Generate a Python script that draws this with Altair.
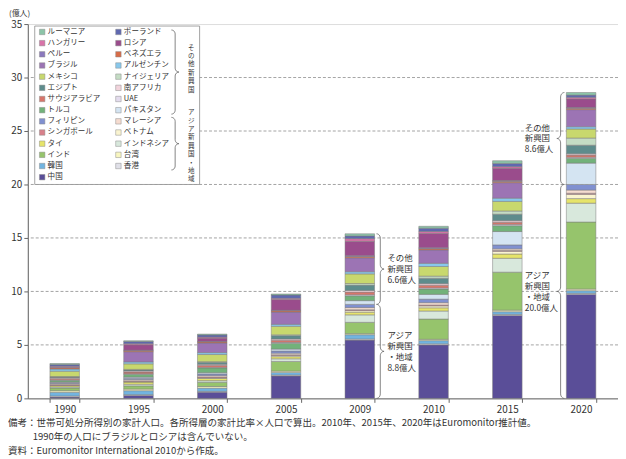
import math
import altair as alt
import pandas as pd

# ---------------- data ----------------
years = ["1990", "1995", "2000", "2005", "2009", "2010", "2015", "2020"]

# stacking order, bottom to top (first 11 = Asian emerging economies)
countries = ["中国", "香港", "韓国", "台湾", "インド", "インドネシア", "タイ", "ベトナム",
             "シンガポール", "マレーシア", "フィリピン",
             "パキスタン", "トルコ", "UAE", "サウジアラビア", "南アフリカ", "エジプト",
             "ナイジェリア", "メキシコ", "アルゼンチン", "ブラジル", "ベネズエラ", "ペルー",
             "ロシア", "ハンガリー", "ポーランド", "ルーマニア"]
n_asia = 11

colors = ["#5a4e98", "#e0e0e8", "#72b4e0", "#f8f6c0", "#96c46c", "#d8e8dc", "#e6e46a", "#faf4d0",
          "#d8808a", "#f6dcd0", "#8090d0",
          "#d4e4f2", "#72b27a", "#e4dcee", "#d8756a", "#f2d4dc", "#5e8c8c",
          "#c4dcc4", "#c8d86e", "#88c8ec", "#9c74b4", "#d86c48", "#8b78bd",
          "#9a4c8c", "#d873a8", "#5f68b0", "#8cc4a8"]

# 億人, per year (1990..2020)
v_china = [0.12, 0.27, 0.58, 2.10, 5.45, 5.00, 7.75, 9.72]
v_hongkong = [0.10, 0.08, 0.08, 0.08, 0.10, 0.10, 0.10, 0.10]
v_korea = [0.35, 0.37, 0.30, 0.25, 0.40, 0.30, 0.25, 0.25]
v_taiwan = [0.15, 0.15, 0.15, 0.12, 0.10, 0.12, 0.15, 0.15]
v_india = [0.25, 0.30, 0.40, 0.90, 1.06, 1.90, 3.55, 6.27]
v_indonesia = [0.10, 0.15, 0.15, 0.25, 0.70, 0.75, 1.30, 1.76]
v_thai = [0.12, 0.20, 0.20, 0.20, 0.25, 0.30, 0.40, 0.43]
v_vietnam = [0.02, 0.05, 0.06, 0.10, 0.15, 0.18, 0.25, 0.40]
v_singapore = [0.08, 0.08, 0.08, 0.08, 0.08, 0.08, 0.08, 0.10]
v_malaysia = [0.10, 0.12, 0.13, 0.15, 0.20, 0.22, 0.15, 0.30]
v_philippines = [0.10, 0.12, 0.15, 0.20, 0.30, 0.33, 0.37, 0.52]
v_pakistan = [0.05, 0.10, 0.12, 0.18, 0.35, 0.45, 1.25, 2.00]
v_turkey = [0.15, 0.27, 0.45, 0.55, 0.45, 0.50, 0.55, 0.45]
v_uae = [0.05, 0.05, 0.06, 0.08, 0.10, 0.10, 0.12, 0.10]
v_saudi = [0.12, 0.15, 0.18, 0.20, 0.25, 0.25, 0.20, 0.20]
v_safrica = [0.10, 0.10, 0.10, 0.12, 0.15, 0.15, 0.15, 0.12]
v_egypt = [0.05, 0.10, 0.18, 0.30, 0.50, 0.50, 0.60, 0.80]
v_nigeria = [0.03, 0.05, 0.06, 0.08, 0.15, 0.20, 0.30, 0.67]
v_mexico = [0.50, 0.52, 0.67, 0.80, 0.90, 0.90, 0.90, 0.85]
v_argentina = [0.20, 0.18, 0.18, 0.18, 0.20, 0.30, 0.30, 0.21]
v_brazil = [0.00, 0.95, 0.90, 1.15, 1.30, 1.25, 1.45, 1.60]
v_venezuela = [0.12, 0.10, 0.10, 0.12, 0.12, 0.12, 0.12, 0.12]
v_peru = [0.05, 0.05, 0.05, 0.05, 0.08, 0.08, 0.08, 0.08]
v_russia = [0.00, 0.50, 0.30, 1.00, 1.35, 1.35, 1.15, 0.80]
v_hungary = [0.10, 0.10, 0.10, 0.12, 0.25, 0.18, 0.15, 0.15]
v_poland = [0.15, 0.20, 0.20, 0.30, 0.25, 0.30, 0.30, 0.21]
v_romania = [0.10, 0.08, 0.08, 0.10, 0.20, 0.18, 0.25, 0.24]

series = [v_china, v_hongkong, v_korea, v_taiwan, v_india, v_indonesia, v_thai, v_vietnam,
          v_singapore, v_malaysia, v_philippines,
          v_pakistan, v_turkey, v_uae, v_saudi, v_safrica, v_egypt,
          v_nigeria, v_mexico, v_argentina, v_brazil, v_venezuela, v_peru,
          v_russia, v_hungary, v_poland, v_romania]

legend_col1 = ["ルーマニア", "ハンガリー", "ペルー", "ブラジル", "メキシコ", "エジプト", "サウジアラビア",
               "トルコ", "フィリピン", "シンガポール", "タイ", "インド", "韓国", "中国"]
legend_col2 = ["ポーランド", "ロシア", "ベネズエラ", "アルゼンチン", "ナイジェリア", "南アフリカ", "UAE",
               "パキスタン", "マレーシア", "ベトナム", "インドネシア", "台湾", "香港"]
group_names = ["その他新興国", "アジア新興国・地域"]

y_ticks = [0, 5, 10, 15, 20, 25, 30, 35]
grid_values = [5, 10, 15, 20, 25, 30]
annotated_years = ["2009", "2020"]
unit_label = "(億人)"
notes = ["備考：世帯可処分所得別の家計人口。各所得層の家計比率×人口で算出。2010年、2015年、2020年はEuromonitor推計値。",
         "1990年の人口にブラジルとロシアは含んでいない。",
         "資料：Euromonitor International 2010から作成。"]

# ---------------- layout constants ----------------
W, H = 596, 378
TOP = 14
YMAX = 35
STEP = W / len(years)
PXU = H / YMAX
HALF_BAR = 0.2
FONT = "Noto Sans CJK JP"
TXT = "#333333"
LINE = "#666666"

# ---------------- bar table ----------------
rows = []
for i, (c, vals) in enumerate(zip(countries, series)):
    for y, v in zip(years, vals):
        if v > 0:
            rows.append({"year": y, "country": c, "value": v, "idx": i})
df = pd.DataFrame(rows)

color_scale = alt.Scale(domain=countries, range=colors)


def brace(x0, wx, y_top, y_bot, ry, bid):
    """curly brace polyline; wx signed width, ry signed radius (toward bottom)."""
    ymid = (y_top + y_bot) / 2
    pts = []
    n = 7
    ts = [k / (n - 1) * math.pi / 2 for k in range(n)]
    for t in ts:
        pts.append((x0 + wx * math.sin(t), y_top - ry + ry * math.cos(t)))
    for t in ts:
        pts.append((x0 + 2 * wx - wx * math.cos(t), ymid + ry - ry * math.sin(t)))
    for t in ts:
        pts.append((x0 + 2 * wx - wx * math.sin(t), ymid - ry + ry * math.cos(t)))
    for t in ts:
        pts.append((x0 + wx * math.cos(t), y_bot + ry - ry * math.sin(t)))
    return [{"bx": p[0], "by": p[1], "k": k, "id": bid} for k, p in enumerate(pts)]


brace_rows, label_rows = [], []
DL = 11 / PXU  # annotation line spacing in data units


def add_label(lines, tx, ty):
    n = len(lines)
    for k, line in enumerate(lines):
        label_rows.append({"tx": tx, "ty": ty + ((n - 1) / 2 - k) * DL, "label": line})


for yr in annotated_years:
    j = years.index(yr)
    asia_sum = round(sum(s[j] for s in series[:n_asia]), 2)
    other_sum = round(sum(s[j] for s in series[n_asia:]), 2)
    total = asia_sum + other_sum
    center = j + 0.5
    if j < len(years) - 1:
        direction = 1
        x0 = center + HALF_BAR + 2 / STEP
        tx = center + HALF_BAR + 13 / STEP
    else:
        direction = -1
        x0 = center - HALF_BAR - 2 / STEP
        tx = center - HALF_BAR - 42 / STEP
    wx = direction * 3.8 / STEP
    ry = 4.5 / PXU
    brace_rows += brace(x0, wx, total, asia_sum, ry, yr + "o")
    brace_rows += brace(x0, wx, asia_sum, 0, ry, yr + "a")
    add_label(["その他", "新興国", f"{other_sum:.1f}億人"], tx, (total + asia_sum) / 2)
    add_label(["アジア", "新興国", "・地域", f"{asia_sum:.1f}億人"], tx, asia_sum / 2)
brace_df = pd.DataFrame(brace_rows)
label_df = pd.DataFrame(label_rows)

# ---------------- layers ----------------
grid = alt.Chart(pd.DataFrame({"g": grid_values})).mark_rule(
    color="#8c8c8c", strokeWidth=0.8, strokeDash=[3, 2]
).encode(y=alt.Y("g:Q", scale=alt.Scale(domain=[0, YMAX], nice=False), axis=None))

bars = alt.Chart(df).mark_bar(stroke="#7a7a7a", strokeWidth=0.5).encode(
    x=alt.X("year:N", sort=years,
            scale=alt.Scale(paddingInner=1 - 2 * HALF_BAR, paddingOuter=(1 - 2 * HALF_BAR) / 2),
            axis=alt.Axis(title=None, labelAngle=0, tickBand="extent", tickSize=4,
                          tickColor=LINE, domainColor=LINE, labelFont=FONT, labelFontSize=10,
                          labelColor=TXT, labelPadding=2)),
    y=alt.Y("value:Q", stack="zero", scale=alt.Scale(domain=[0, YMAX], nice=False),
            axis=alt.Axis(title=None, values=y_ticks, grid=False, tickSize=4, tickColor=LINE,
                          domainColor=LINE, labelFont=FONT, labelFontSize=10, labelColor=TXT,
                          labelPadding=2)),
    color=alt.Color("country:N", scale=color_scale, legend=None),
    order=alt.Order("idx:Q", sort="ascending"),
)

bx_scale = alt.Scale(domain=[0, len(years)], nice=False, zero=False)
by_scale = alt.Scale(domain=[0, YMAX], nice=False)

braces = alt.Chart(brace_df).mark_line(color=LINE, strokeWidth=0.8).encode(
    x=alt.X("bx:Q", scale=bx_scale, axis=None),
    y=alt.Y("by:Q", scale=by_scale, axis=None),
    detail="id:N", order="k:Q")

labels = alt.Chart(label_df).mark_text(
    align="left", baseline="middle", fontSize=8.5, font=FONT, color=TXT
).encode(x=alt.X("tx:Q", scale=bx_scale, axis=None),
         y=alt.Y("ty:Q", scale=by_scale, axis=None), text="label:N")

# ---- legend (pixel coordinates inside the plot) ----
lx_scale = alt.Scale(domain=[0, W], nice=False, zero=False)
ly_scale = alt.Scale(domain=[0, H], nice=False, zero=False, reverse=True)
SH = -(8 + TOP - 16)  # keep legend at the same page position as the reference
ROW0, DROW = 14 + SH, 11.28
leg_rows = []
for col, names in enumerate([legend_col1, legend_col2]):
    for r, name in enumerate(names):
        leg_rows.append({"country": name, "sx": 14.5 + 77 * col, "tx": 20 + 77 * col,
                         "ly": ROW0 + DROW * r})
leg_df = pd.DataFrame(leg_rows)

box = alt.Chart(pd.DataFrame({"a": [0]})).mark_rect(
    fill="white", stroke="#8c8c8c", strokeWidth=0.8
).encode(x=alt.X("x1:Q", scale=lx_scale, axis=None), x2="x2:Q",
         y=alt.Y("y1:Q", scale=ly_scale, axis=None), y2="y2:Q"
).transform_calculate(x1="7", x2="173.5", y1=str(8 + SH), y2=str(168 + SH))

swatches = alt.Chart(leg_df).mark_square(size=30, opacity=1, stroke="#8a8a8a", strokeWidth=0.5).encode(
    x=alt.X("sx:Q", scale=lx_scale, axis=None),
    y=alt.Y("ly:Q", scale=ly_scale, axis=None),
    color=alt.Color("country:N", scale=color_scale, legend=None))

leg_text = alt.Chart(leg_df).mark_text(
    align="left", baseline="middle", fontSize=7.6, font=FONT, color=TXT
).encode(x=alt.X("tx:Q", scale=lx_scale, axis=None),
         y=alt.Y("ly:Q", scale=ly_scale, axis=None), text="country:N")

leg_braces_rows = (brace(145, 3.8, ROW0 - 2, ROW0 + DROW * 7 + 4, -4, "g1") +
                   brace(145, 3.8, ROW0 + DROW * 8 - 4, ROW0 + DROW * 12 + 4, -4, "g2"))
leg_braces = alt.Chart(pd.DataFrame(leg_braces_rows)).mark_line(color=LINE, strokeWidth=0.8).encode(
    x=alt.X("bx:Q", scale=lx_scale, axis=None),
    y=alt.Y("by:Q", scale=ly_scale, axis=None),
    detail="id:N", order="k:Q")

# vertical group labels: one multi-line text block each (one character per line)
CH = 8.5
group_df = pd.DataFrame({
    "label": ["\n".join(g) for g in group_names],
    "gy": [c - len(g) * CH / 2 for g, c in zip(group_names, [ROW0 + DROW * 3.4, ROW0 + DROW * 10.3])],
})
group_text = alt.Chart(group_df).mark_text(
    align="center", baseline="top", lineBreak="\n", lineHeight=CH, fontSize=6.6,
    font=FONT, color=TXT
).encode(x=alt.value(165), y=alt.Y("gy:Q", scale=ly_scale, axis=None), text="label:N")

one = pd.DataFrame({"a": [0]})
unit = alt.Chart(one).mark_text(align="left", baseline="top", fontSize=8, font=FONT, color=TXT).encode(
    x=alt.value(-19), y=alt.value(-TOP), text=alt.value(unit_label))

note_layers = []
for k, (note, nx) in enumerate(zip(notes, [-20, 5, -20])):
    note_layers.append(alt.Chart(one).mark_text(
        align="left", baseline="middle", fontSize=9.6, font=FONT, color=TXT
    ).encode(x=alt.value(nx), y=alt.value(H + 25 + 14 * k), text=alt.value(note)))

chart = alt.layer(grid, bars, braces, labels, box, swatches, leg_text, leg_braces, group_text,
                  unit, *note_layers).resolve_scale(
    x="independent", y="independent"
).properties(
    width=W, height=H,
    autosize=alt.AutoSizeParams(type="none"),
    padding={"left": 20, "top": TOP, "right": 0, "bottom": 58},
).configure_view(stroke=None).configure(background="white")

chart.save("out.html", embed_options={"renderer": "svg", "actions": False})
